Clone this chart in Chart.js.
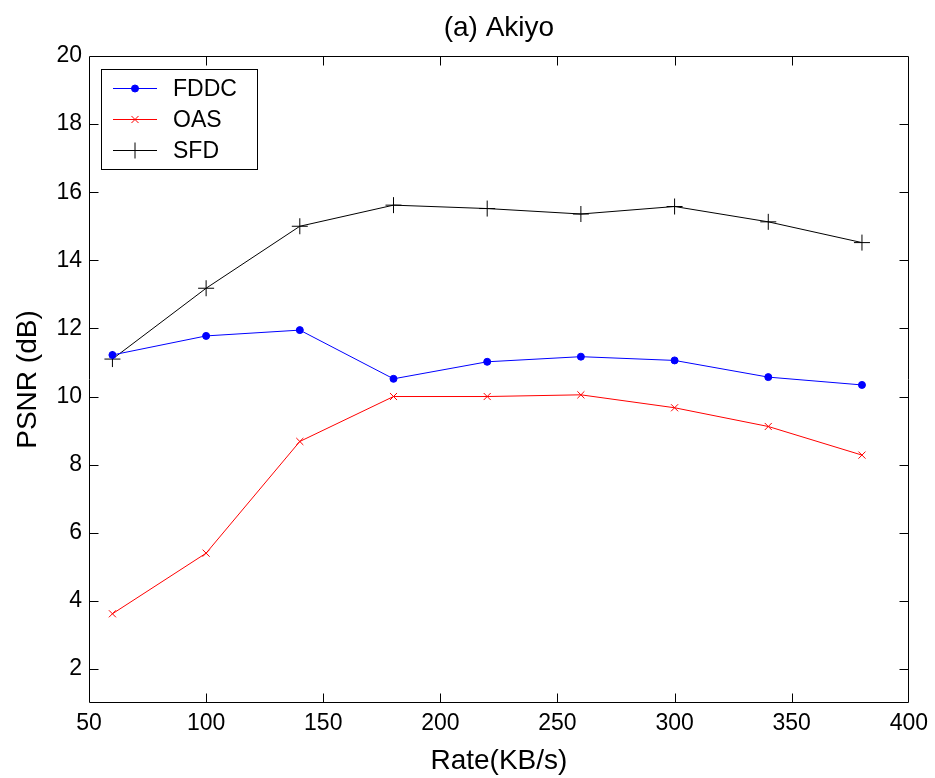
<!DOCTYPE html>
<html>
<head>
<meta charset="utf-8">
<script src="https://cdn.jsdelivr.net/npm/chart.js@4/dist/chart.umd.min.js"></script>
<style>
  html, body { margin: 0; padding: 0; background: #fff; }
  #wrap { width: 935px; height: 778px; }
</style>
</head>
<body>
<div id="wrap"><canvas id="c" width="935" height="778"></canvas></div>
<script>
const rates = [60, 100, 140, 180, 220, 260, 300, 340, 380];
const fddc = [11.22, 11.78, 11.95, 10.52, 11.02, 11.17, 11.06, 10.57, 10.34];
const oas  = [3.62, 5.40, 8.68, 10.0, 10.0, 10.05, 9.67, 9.12, 8.28];
const sfd  = [11.10, 13.18, 15.00, 15.62, 15.52, 15.36, 15.58, 15.13, 14.52];
const xTicks = [50, 100, 150, 200, 250, 300, 350, 400];
const yTicks = [2, 4, 6, 8, 10, 12, 14, 16, 18, 20];
const seriesNames = ['FDDC', 'OAS', 'SFD'];
const titleText = '(a) Akiyo';
const xTitle = 'Rate(KB/s)';
const yTitle = 'PSNR (dB)';

const FONT = '"Liberation Sans", Arial, sans-serif';

function pts(vals) { return rates.map((r, i) => ({x: r, y: vals[i]})); }

const frameTicks = {
  id: 'frameTicks',
  afterDatasetsDraw(chart) {
    const {ctx, chartArea: a, scales} = chart;
    const L = Math.round(a.left) + 0.5, R = Math.round(a.right) - 0.5;
    const T = Math.round(a.top) + 0.5, B = Math.round(a.bottom) - 0.5;
    const len = 9;
    ctx.save();
    ctx.strokeStyle = '#000';
    ctx.lineWidth = 1;
    ctx.beginPath();
    ctx.rect(L, T, R - L, B - T);
    scales.x.ticks.forEach(t => {
      const px = Math.round(scales.x.getPixelForValue(t.value)) + 0.5;
      if (px <= L + 1 || px >= R - 1) return;
      ctx.moveTo(px, B); ctx.lineTo(px, B - len);
      ctx.moveTo(px, T); ctx.lineTo(px, T + len);
    });
    scales.y.ticks.forEach(t => {
      const py = Math.round(scales.y.getPixelForValue(t.value)) + 0.5;
      if (py <= T + 1 || py >= B - 1) return;
      ctx.moveTo(L, py); ctx.lineTo(L + len, py);
      ctx.moveTo(R, py); ctx.lineTo(R - len, py);
    });
    ctx.stroke();
    ctx.restore();
  }
};

const insetLegend = {
  id: 'insetLegend',
  afterDatasetsDraw(chart) {
    const {ctx, chartArea: a} = chart;
    const bx = Math.round(a.left) + 12, by = Math.round(a.top) + 13, bw = 156, bh = 100;
    ctx.save();
    ctx.fillStyle = '#fff';
    ctx.fillRect(bx, by, bw, bh);
    ctx.strokeStyle = '#000';
    ctx.lineWidth = 1;
    ctx.strokeRect(bx + 0.5, by + 0.5, bw, bh);
    chart.data.datasets.forEach((ds, i) => {
      const y = by + 19 + i * 31 + 0.5;
      const x0 = bx + 12, x1 = bx + 56, xm = (x0 + x1) / 2;
      ctx.strokeStyle = ds.borderColor;
      ctx.fillStyle = ds.backgroundColor;
      ctx.lineWidth = 1;
      ctx.beginPath(); ctx.moveTo(x0, y); ctx.lineTo(x1, y); ctx.stroke();
      Chart.helpers.drawPoint(ctx, {
        pointStyle: ds.pointStyle, radius: ds.pointRadius, borderWidth: 1, rotation: 0
      }, xm, y);
      ctx.fillStyle = '#000';
      ctx.font = '23px ' + FONT;
      ctx.textBaseline = 'middle';
      ctx.textAlign = 'left';
      ctx.fillText(ds.label, bx + 72, y + 1);
    });
    ctx.restore();
  }
};

const datasetsBase = [
  {label: seriesNames[0], data: pts(fddc), borderColor: '#0000ff', backgroundColor: '#0000ff', pointStyle: 'circle', pointRadius: 3.5},
  {label: seriesNames[1], data: pts(oas), borderColor: '#ff0000', backgroundColor: '#ff0000', pointStyle: 'crossRot', pointRadius: 5},
  {label: seriesNames[2], data: pts(sfd), borderColor: '#000000', backgroundColor: '#000000', pointStyle: 'cross', pointRadius: 8}
];

new Chart(document.getElementById('c'), {
  type: 'line',
  data: {
    datasets: datasetsBase.map(d => Object.assign({
      borderWidth: 1,
      pointBorderWidth: 1,
      pointHoverRadius: d.pointRadius,
      tension: 0,
      fill: false,
      clip: false
    }, d))
  },
  options: {
    responsive: false,
    animation: false,
    devicePixelRatio: 1,
    layout: { padding: { left: 0, right: 25, top: 0, bottom: 0 } },
    plugins: {
      legend: { display: false },
      tooltip: { enabled: false },
      title: {
        display: true,
        text: titleText,
        fullSize: false,
        color: '#000',
        font: { family: FONT, size: 28, weight: 'normal' },
        padding: { top: 11, bottom: 11.4 }
      }
    },
    scales: {
      x: {
        type: 'linear',
        min: 50, max: 400,
        afterBuildTicks: s => { s.ticks = xTicks.map(v => ({value: v})); },
        afterFit: s => { s.height = 75; },
        grid: { display: false, drawTicks: false },
        border: { display: false },
        ticks: { color: '#000', font: { family: FONT, size: 23 }, padding: 7, maxRotation: 0, autoSkip: false },
        title: { display: true, text: xTitle, color: '#000', font: { family: FONT, size: 28 }, padding: { top: 0, bottom: 0 } }
      },
      y: {
        type: 'linear',
        min: 1, max: 20,
        afterBuildTicks: s => { s.ticks = yTicks.map(v => ({value: v})); },
        afterFit: s => { s.width = 89; },
        grid: { display: false, drawTicks: false },
        border: { display: false },
        ticks: { color: '#000', font: { family: FONT, size: 23 }, padding: 7, autoSkip: false },
        title: { display: true, text: yTitle, color: '#000', font: { family: FONT, size: 28 }, padding: { top: 11, bottom: 0 } }
      }
    }
  },
  plugins: [frameTicks, insetLegend]
});
</script>
</body>
</html>
